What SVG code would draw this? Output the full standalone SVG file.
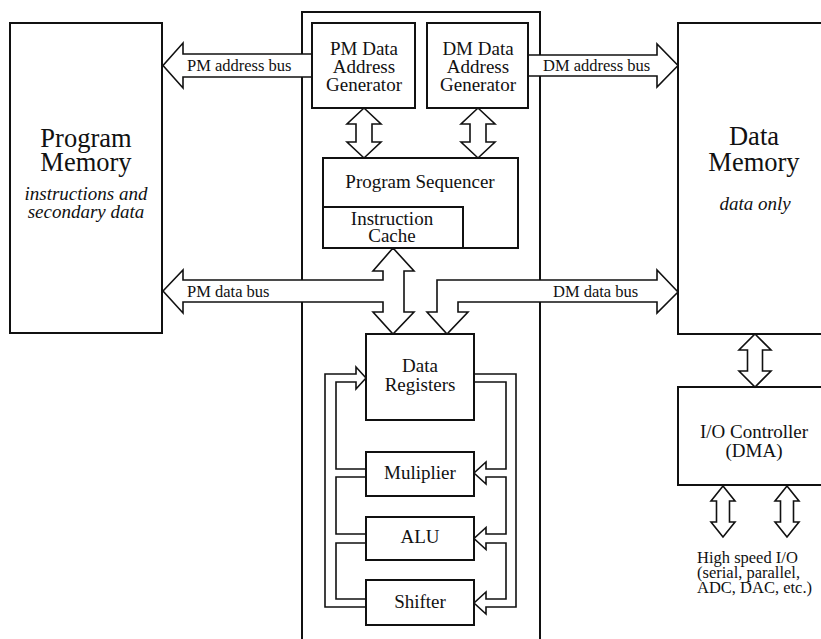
<svg xmlns="http://www.w3.org/2000/svg" width="821" height="639" viewBox="0 0 821 639" font-family="'Liberation Serif', 'DejaVu Serif', 'Times New Roman', serif">
  <style>
    .box { fill: #fff; stroke: #111; stroke-width: 2; }
    .arrow { fill: #fff; stroke: #111; stroke-width: 1.6; stroke-linejoin: miter; }
    text { font-family: 'Liberation Serif', 'DejaVu Serif', 'Times New Roman', serif; fill: #111; text-anchor: middle; }
    .title { font-size: 26.5px; }
    .note { font-size: 19px; font-style: italic; }
    .label { font-size: 19px; }
    .bus { font-size: 16.5px; text-anchor: start; }
  </style>

  <rect width="821" height="639" fill="#fff"/>

  <!-- processor outline -->
  <g id="processor">
    <rect class="box" x="302" y="12" width="238" height="640"/>
  </g>

  <g id="program-memory">
    <rect class="box" x="10" y="23" width="152" height="310"/>
    <text class="title" x="86" y="147" font-family="Liberation Serif">Program</text>
    <text class="title" x="86" y="171" font-family="Liberation Serif">Memory</text>
    <text class="note" x="86" y="200">instructions and</text>
    <text class="note" x="86" y="218">secondary data</text>
  </g>

  <g id="data-memory">
    <rect class="box" x="678" y="23" width="160" height="311"/>
    <text class="title" x="754" y="145">Data</text>
    <text class="title" x="754" y="171">Memory</text>
    <text class="note" x="755" y="210">data only</text>
  </g>

  <g id="io-controller">
    <rect class="box" x="678" y="387" width="160" height="98"/>
    <text class="label" x="754" y="438">I/O Controller</text>
    <text class="label" x="754" y="457">(DMA)</text>
  </g>

  <!-- buses and internal data paths -->
  <g id="connectors">
    <!-- PM address bus -->
    <path class="arrow" d="M312,54 L183,54 L183,43 L163,65.5 L183,88 L183,77 L312,77"/>
    <!-- DM address bus -->
    <path class="arrow" d="M528,55 L657,55 L657,44 L678,65.5 L657,87 L657,76 L528,76"/>
    <!-- PM DAG <-> sequencer -->
    <path class="arrow" d="M364,108 L381,124 L372,124 L372,142 L381,142 L364,158 L347,142 L356,142 L356,124 L347,124 Z"/>
    <!-- DM DAG <-> sequencer -->
    <path class="arrow" d="M478,108 L495,124 L486,124 L486,142 L495,142 L478,158 L461,142 L470,142 L470,124 L461,124 Z"/>
    <!-- PM data bus with cache / data register branch -->
    <path class="arrow" d="M163,291 L183,270 L183,280 L383,280 L383,271 L373,271 L393,248 L414,271 L404,271 L404,312 L414,312 L393,334 L373,312 L383,312 L383,302 L183,302 L183,313 Z"/>
    <!-- DM data bus -->
    <path class="arrow" d="M678,292 L657,270 L657,280 L437,280 L437,312 L427,312 L447,334 L468,312 L458,312 L458,302 L657,302 L657,313 Z"/>
    <!-- results back into data registers -->
    <path class="arrow" d="M366,378 L356,367 L356,374 L325,374 L325,607 L366,607 L366,599 L336,599 L336,543 L366,543 L366,534 L336,534 L336,477 L366,477 L366,469 L336,469 L336,382 L356,382 L356,389 Z"/>
    <!-- operands out to the execution units -->
    <path class="arrow" d="M474,374 L516,374 L516,607 L486,607 L486,614 L474,603 L486,592 L486,599 L506,599 L506,543 L486,543 L486,549.5 L474,538.5 L486,527.5 L486,534 L506,534 L506,477 L486,477 L486,484 L474,473 L486,462 L486,469 L506,469 L506,382 L474,382 Z"/>
    <!-- data memory <-> I/O controller -->
    <path class="arrow" d="M755,334 L771,350 L762.5,350 L762.5,371 L771,371 L755,387 L739,371 L747.5,371 L747.5,350 L739,350 Z"/>
    <!-- high speed I/O ports -->
    <path class="arrow" d="M723,486 L735,501 L729.5,501 L729.5,522 L735,522 L723,537 L711,522 L716.5,522 L716.5,501 L711,501 Z"/>
    <path class="arrow" d="M787,486 L799,501 L793.5,501 L793.5,522 L799,522 L787,537 L775,522 L780.5,522 L780.5,501 L775,501 Z"/>
    <text class="bus" x="187" y="71">PM address bus</text>
    <text class="bus" x="543" y="71">DM address bus</text>
    <text class="bus" x="187" y="297">PM data bus</text>
    <text class="bus" x="553" y="297">DM data bus</text>
  </g>

  <g id="pm-dag">
    <rect class="box" x="312" y="23" width="103" height="85"/>
    <text class="label" x="364" y="54.5">PM Data</text>
    <text class="label" x="364" y="72.5">Address</text>
    <text class="label" x="364" y="90.5">Generator</text>
  </g>

  <g id="dm-dag">
    <rect class="box" x="427" y="23" width="101" height="85"/>
    <text class="label" x="478" y="54.5">DM Data</text>
    <text class="label" x="478" y="72.5">Address</text>
    <text class="label" x="478" y="90.5">Generator</text>
  </g>

  <g id="program-sequencer">
    <rect class="box" x="323" y="158" width="195" height="90"/>
    <text class="label" x="420" y="188">Program Sequencer</text>
  </g>

  <g id="instruction-cache">
    <rect class="box" x="323" y="207" width="140" height="41"/>
    <text class="label" x="392" y="225">Instruction</text>
    <text class="label" x="392" y="242">Cache</text>
  </g>

  <g id="data-registers">
    <rect class="box" x="366" y="334" width="108" height="86"/>
    <text class="label" x="420" y="372">Data</text>
    <text class="label" x="420" y="391">Registers</text>
  </g>

  <g id="multiplier">
    <rect class="box" x="366" y="452" width="108" height="44"/>
    <text class="label" x="420" y="479">Muliplier</text>
  </g>

  <g id="alu">
    <rect class="box" x="366" y="517" width="108" height="43"/>
    <text class="label" x="420" y="543">ALU</text>
  </g>

  <g id="shifter">
    <rect class="box" x="366" y="580" width="108" height="45"/>
    <text class="label" x="420" y="608">Shifter</text>
  </g>

  <g id="io-ports">
    <text class="bus" x="697" y="563">High speed I/O</text>
    <text class="bus" x="697" y="578">(serial, parallel,</text>
    <text class="bus" x="697" y="593">ADC, DAC, etc.)</text>
  </g>
</svg>
